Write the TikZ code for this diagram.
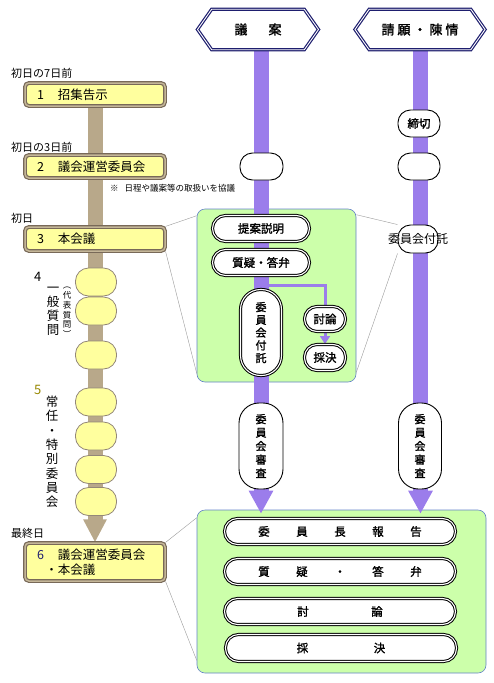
\documentclass[tikz,border=0pt]{standalone}
\usepackage{fontspec}
\setmainfont{Noto Sans CJK JP}[AutoFakeBold=1.5]
\usetikzlibrary{shapes.symbols,shapes.misc,arrows.meta,calc}
\pgfdeclarelayer{bg}
\pgfdeclarelayer{mid}
\pgfsetlayers{bg,mid,main}
\definecolor{yfill}{RGB}{255,255,158}
\definecolor{brdark}{RGB}{120,105,88}
\definecolor{brlight}{RGB}{196,182,152}
\definecolor{tanbar}{RGB}{184,168,138}
\definecolor{purp}{RGB}{155,125,235}
\definecolor{gfill}{RGB}{204,255,170}
\definecolor{gborder}{RGB}{100,130,200}
\definecolor{navyc}{RGB}{30,30,110}
\definecolor{olivec}{RGB}{150,135,0}
\begin{document}
\begin{tikzpicture}[x=1pt,y=-1pt,
  ybx/.style={draw=brdark, double=brlight, line width=1.2pt, double distance=1.5pt, fill=yfill,
    rounded corners=4pt, minimum width=140pt, text width=130pt, align=left,
    font=\fontsize{12.5}{15}\selectfont},
  yov/.style={draw=brdark!80, line width=0.8pt, fill=yfill, minimum width=41pt,
    minimum height=28pt, rounded corners=13pt, inner sep=0pt},
  pill/.style={draw=black, double=white, line width=1pt, double distance=1.1pt, fill=white,
    rounded corners=13pt, inner sep=0pt, font=\fontsize{11.5}{13}\selectfont\bfseries},
  vpill/.style={draw=black, double=white, line width=1pt, double distance=1.1pt, fill=white,
    rounded corners=20pt, inner sep=0pt, align=center},
  oval/.style={draw=black, line width=0.9pt, fill=white, rounded corners=12.5pt, inner sep=0pt,
    font=\fontsize{11.5}{13}\selectfont\bfseries},
  vov/.style={draw=black, line width=0.9pt, fill=white, rounded corners=20pt, inner sep=0pt,
    align=center, font=\fontsize{11}{13.5}\selectfont\bfseries},
  gbox/.style={draw=gborder, line width=0.6pt, fill=gfill, rounded corners=8pt},
  hex/.style={signal, signal to=east and west, signal pointer angle=110, draw=navyc,
    double=white, line width=1.2pt, double distance=0.9pt, fill=white, minimum height=40.5pt,
    inner sep=0pt, font=\fontsize{13}{15}\selectfont\bfseries},
  gline/.style={draw=gray!80, line width=0.4pt},
  pbar/.style={draw=purp, line width=15pt, -{Triangle[width=23pt,length=23pt]}},
  bbar/.style={draw=tanbar, line width=15pt, -{Triangle[width=22pt,length=23pt]}},
  pthin/.style={draw=purp, line width=3pt},
  lbl/.style={anchor=west, inner sep=0pt, font=\fontsize{11}{13}\selectfont},
  vtxt/.style={inner sep=0pt, align=center}
]
\useasboundingbox (0,0) rectangle (494,683);
\coordinate (c1) at (261,0);
\coordinate (c2) at (420.5,0);

% headers
\node[hex, minimum width=121pt] (h1) at (258,29.5) {\makebox[34pt]{議}\makebox[34pt]{案}};
\node[hex, minimum width=130pt] (h2) at (420,29.5)
  {\makebox[16pt]{請}\makebox[16pt]{願}\makebox[16pt]{・}\makebox[16pt]{陳}\makebox[16pt]{情}};

% green boxes
\begin{pgfonlayer}{bg}
\node[gbox, minimum width=159pt, minimum height=173pt] (g1) at (276.5,295.5) {};
\node[gbox, minimum width=289pt, minimum height=163pt] (g2) at (341.5,591.5) {};
\end{pgfonlayer}

% left column
\node[lbl] (l1) at (11,73) {初日の7日前};
\node[lbl] (l2) at (11,147) {初日の3日前};
\node[lbl] (l3) at (11,218) {初日};
\node[lbl] (l6) at (11,533) {最終日};
\node[ybx, minimum height=23pt] (b1) at (95,94.5) {\hspace*{7pt}\makebox[21pt][l]{1}招集告示};
\node[ybx, minimum height=23pt] (b2) at (95,166.5) {\hspace*{7pt}\makebox[21pt][l]{2}議会運営委員会};
\node[ybx, minimum height=24pt] (b3) at (95,239) {\hspace*{7pt}\makebox[21pt][l]{3}本会議};
\node[ybx, minimum height=38pt] (b6) at (95,562)
  {\hspace*{7pt}\makebox[21pt][l]{\color{navyc}6}議会運営委員会\\\hspace*{15.5pt}・本会議};
\node[lbl, font=\fontsize{8.5}{10}\selectfont] (note) at (110,188) {※\hspace{6pt}日程や議案等の取扱いを協議};

\node[yov] (o41) at (96,282) {};
\node[yov] (o42) at (96,311) {};
\node[yov] (o43) at (96,355) {};
\node[yov] (o51) at (96,402) {};
\node[yov] (o52) at (96,436) {};
\node[yov] (o53) at (96,469.5) {};
\node[yov] (o54) at (96,501.5) {};
\node[lbl, font=\fontsize{13}{15}\selectfont] (n4) at (34,277) {4};
\node[vtxt, font=\fontsize{12.5}{14}\selectfont] (t4) at (53,311) {一\\般\\質\\問};
\node[vtxt, font=\fontsize{8.5}{9.8}\selectfont] (t4b) at (67,312.5) {︵\\代\\表\\質\\問\\︶};
\node[lbl, font=\fontsize{13}{15}\selectfont, text=olivec] (n5) at (34,390) {5};
\node[vtxt, font=\fontsize{12.5}{14.3}\selectfont] (t5) at (52,452) {常\\任\\・\\特\\別\\委\\員\\会};

% middle column
\node[oval, minimum width=43pt, minimum height=27pt] (e1) at (261.5,166.5) {};
\node[pill, minimum width=97pt, minimum height=26pt] (p1) at (261,228.5) {提案説明};
\node[pill, minimum width=97pt, minimum height=26pt] (p2) at (261,262.5) {質疑・答弁};
\node[vpill, minimum width=41pt, minimum height=86pt, font=\fontsize{11}{12.75}\selectfont\bfseries] (p3) at (261,332.5) {委\\員\\会\\付\\託};
\node[pill, minimum width=41pt, minimum height=25pt, rounded corners=12.5pt] (p4) at (325,319) {討論};
\node[pill, minimum width=41pt, minimum height=26pt, rounded corners=12.5pt] (p5) at (325,357.5) {採決};
\node[vov, minimum width=44pt, minimum height=86pt] (k1) at (261,446) {委\\員\\会\\審\\査};

% right column
\node[oval, minimum width=42pt, minimum height=27pt] (r1) at (419,123.5) {締切};
\node[oval, minimum width=42pt, minimum height=27pt] (e2) at (419,166.5) {};
\node[oval, minimum width=40pt, minimum height=28pt,
  label={[font=\fontsize{12}{14}\selectfont, inner sep=0pt]center:委員会付託}] (rf) at (418,239) {};
\node[vov, minimum width=43pt, minimum height=86pt] (k2) at (420,446) {委\\員\\会\\審\\査};

% bottom box pills
\node[pill, minimum width=231pt, minimum height=26pt] (q1) at (340,531.5)
  {\makebox[38pt]{委}\makebox[38pt]{員}\makebox[38pt]{長}\makebox[38pt]{報}\makebox[38pt]{告}};
\node[pill, minimum width=231pt, minimum height=26pt] (q2) at (340,571.5)
  {\makebox[38pt]{質}\makebox[38pt]{疑}\makebox[38pt]{・}\makebox[38pt]{答}\makebox[38pt]{弁}};
\node[pill, minimum width=231pt, minimum height=26pt] (q3) at (340,611.5)
  {\makebox[74pt]{討}\makebox[74pt]{論}};
\node[pill, minimum width=231pt, minimum height=27pt] (q4) at (341,648)
  {\makebox[77pt]{採}\makebox[77pt]{決}};

\coordinate (pj) at (261,285.5);

% bars and connectors
\begin{pgfonlayer}{mid}
\draw[bbar] (b1.south) -- (b6.north);
\draw[pbar] (h1.south -| c1) -- ($(g2.north -| c1)+(0,4)$);
\draw[pbar] (h2.south -| c2) -- ($(g2.north -| c2)+(0,4)$);
\draw[pthin, -{Triangle[width=10pt,length=8pt]}] (pj) -| (p5.north);
\end{pgfonlayer}
\begin{pgfonlayer}{bg}
\draw[gline] (b3.north east) -- ($(g1.north west)+(0,7)$);
\draw[gline] (b3.south east) -- ($(g1.south west)+(0,-9)$);
\draw[gline] ($(g1.north east)+(0,6)$) -- (rf.north west);
\draw[gline] ($(g1.south east)+(0,-10)$) -- (rf.south west);
\draw[gline] (b6.north east) -- ($(g2.north west)+(0,8)$);
\draw[gline] (b6.south east) -- ($(g2.south west)+(0,-13)$);
\end{pgfonlayer}
\end{tikzpicture}
\end{document}
